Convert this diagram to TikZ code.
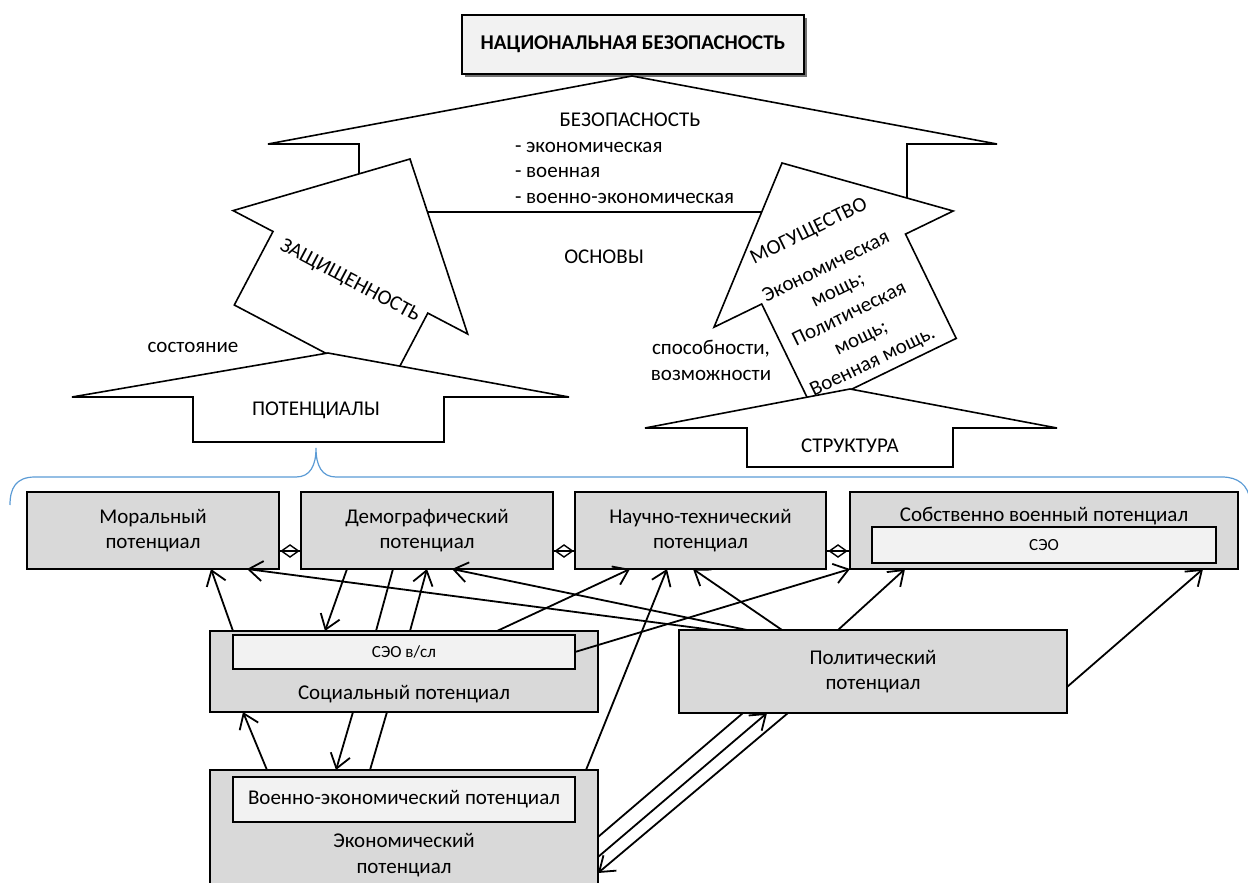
\documentclass[tikz,border=0pt]{standalone}
\usepackage{fontspec}
\setmainfont{Carlito}
\usetikzlibrary{arrows.meta,shapes.geometric,shadows,calc}
\definecolor{boxgray}{HTML}{D9D9D9}
\definecolor{innergray}{HTML}{F2F2F2}
\definecolor{braceblue}{HTML}{5B9BD5}
\begin{document}
\begin{tikzpicture}[x=1pt,y=-1pt,
  font=\fontsize{21}{25.5}\selectfont,
  every node/.style={inner sep=0pt, outer sep=0pt},
  box/.style={draw, line width=1.6pt, fill=boxgray, anchor=north west, align=center},
  inbox/.style={draw, line width=1.6pt, fill=innergray, anchor=north west, align=center},
  bigarrow/.style={draw, line width=1.6pt, fill=white, line join=miter},
  conn/.style={line width=1.8pt, -{Straight Barb[length=14pt,width=20pt]}},
  plain/.style={line width=1.8pt},
  agg/.style={diamond, draw, line width=1.4pt, fill=none, minimum width=17pt, minimum height=12pt},
  small/.style={font=\fontsize{17}{20}\selectfont},
]
\useasboundingbox (0,0) rectangle (1248,883);

% title
\node[draw, line width=1.6pt, fill=innergray,
      drop shadow={shadow xshift=3pt, shadow yshift=-3pt, fill=black!55, opacity=1},
      minimum width=342pt, minimum height=59pt, font=\fontsize{21}{25.5}\selectfont\bfseries]
      (title) at (633,44.5) {НАЦИОНАЛЬНАЯ БЕЗОПАСНОСТЬ};

% big arrow БЕЗОПАСНОСТЬ
\draw[bigarrow] (632,76) -- (997,144) -- (907,144) -- (907,212) -- (359,212) -- (359,144) -- (268,144) -- cycle;
\node (bezop) at (630,120) {БЕЗОПАСНОСТЬ};
\node[align=left, anchor=west] (bezlist) at (515,172.5) {- экономическая\\- военная\\- военно-экономическая};

% ЗАЩИЩЕННОСТЬ
\draw[bigarrow] (410,159) -- (467.7,334) -- (427.8,313.1) -- (389.1,386.6) -- (234.3,305) -- (273,231.5) -- (233.1,210.6) -- cycle;
\node[rotate=-28] (zash) at (350,281) {ЗАЩИЩЕННОСТЬ};

% МОГУЩЕСТВО
\draw[bigarrow] (782,163) -- (953.2,211) -- (905.5,234.1) -- (956.2,338.4) -- (812.4,408.3) -- (761.7,304) -- (714,327.2) -- cycle;
\node[rotate=26, align=center, font=\fontsize{21}{26.5}\selectfont] (mog) at (841,297)
  {МОГУЩЕСТВО\\[13pt]Экономическая\\мощь;\\Политическая\\мощь;\\Военная мощь.};

% ПОТЕНЦИАЛЫ
\draw[bigarrow] (328,353) -- (569,397) -- (444,397) -- (444,442) -- (193,442) -- (193,397) -- (72,397) -- cycle;
\node (pot) at (316,410) {ПОТЕНЦИАЛЫ};

% СТРУКТУРА
\draw[bigarrow] (850,389) -- (1057,428) -- (953,428) -- (953,467) -- (747,467) -- (747,428) -- (645,428) -- cycle;
\node (strukt) at (850,446) {СТРУКТУРА};

% labels
\node (osn) at (604,257) {ОСНОВЫ};
\node (sost) at (193,347) {состояние};
\node[align=center, font=\fontsize{21}{26}\selectfont] (sposob) at (711,360) {способности,\\возможности};

% brace
\draw[braceblue, line width=1.2pt] (10,505) .. controls (10,488) and (16,477) .. (35,477) -- (296,477)
  .. controls (310,477) and (316,466) .. (316,448)
  .. controls (316,466) and (322,477) .. (336,477) -- (1222,477)
  .. controls (1238,477) and (1248,485) .. (1250,500);

% top row
\node[box, minimum width=252pt, minimum height=77pt] (moral) at (27,492) {Моральный\\потенциал};
\node[box, minimum width=252pt, minimum height=77pt] (demo) at (301,492) {Демографический\\потенциал};
\node[box, minimum width=251pt, minimum height=77pt] (nauch) at (575,492) {Научно-технический\\потенциал};
\node[box, minimum width=388pt, minimum height=77pt] (sobst) at (850,492) {};
\node (sobsttxt) at (1044,516) {Собственно военный потенциал};
\node[inbox, small, minimum width=344pt, minimum height=36pt] (seo) at (872,527) {СЭО};

% social
\node[box, minimum width=388pt, minimum height=81pt] (social) at (210,631) {};
\node[inbox, small, minimum width=342pt, minimum height=34pt] (seovsl) at (233,635) {СЭО в/сл};
\node (socialtxt) at (404,694) {Социальный потенциал};

% political
\node[box, minimum width=388pt, minimum height=83pt] (polit) at (679,630) {Политический\\потенциал};

% economic
\node[box, minimum width=388pt, minimum height=130pt] (econ) at (210,770) {};
\node[inbox, minimum width=342pt, minimum height=45pt] (voen) at (233,777) {Военно-экономический потенциал};
\node[align=center] (econtxt) at (404,855) {Экономический\\потенциал};

% aggregation links
\draw[plain] ([yshift=18pt]moral.south east) -- ([yshift=18pt]demo.south west) node[agg, midway] {};
\draw[plain] ([yshift=18pt]demo.south east) -- ([yshift=18pt]nauch.south west) node[agg, midway] {};
\draw[plain] ([yshift=18pt]nauch.south east) -- ([yshift=18pt]sobst.south west) node[agg, midway] {};

% connectors
\draw[conn] ([xshift=23pt]social.north west) -- ([xshift=184pt]moral.south west);
\draw[conn] ([xshift=34pt]polit.north west) -- ([xshift=220pt]moral.south west);
\draw[conn] ([xshift=46pt]demo.south west) -- ([xshift=115pt]social.north west);
\draw[plain] ([xshift=166pt]social.north west) -- ([xshift=92pt]demo.south west);
\draw[conn] ([xshift=200pt]social.north west) -- ([xshift=126pt]demo.south west);
\draw[conn] ([xshift=68pt]polit.north west) -- ([xshift=151pt]demo.south west);
\draw[conn] ([xshift=287pt]social.north west) -- ([xshift=55pt]nauch.south west);
\draw[conn] ([xshift=376pt]econ.north west) -- ([xshift=92pt]nauch.south west);
\draw[conn] ([xshift=103pt]polit.north west) -- ([xshift=118pt]nauch.south west);
\draw[conn] (seovsl.east) -- (sobst.south west);
\draw[conn] ([xshift=159pt]polit.north west) -- ([xshift=55pt]sobst.south west);
\draw[conn] ([yshift=-15.5pt]polit.east) -- ([xshift=-35pt]sobst.south east);
\draw[plain] ([yshift=-67pt]econ.north east) -- ([xshift=64pt]polit.south west);
\draw[conn] ([yshift=-87pt]econ.north east) -- ([xshift=88pt]polit.south west);
\draw[conn] ([xshift=109pt]polit.south west) -- ([yshift=-103pt]econ.north east);
\draw[conn] ([xshift=57pt]econ.north west) -- ([xshift=33pt]social.south west);
\draw[conn] ([xshift=143pt]social.south west) -- ([xshift=126pt]econ.north west);
\draw[plain] ([xshift=160pt]econ.north west) -- ([xshift=177pt]social.south west);
\end{tikzpicture}
\end{document}
